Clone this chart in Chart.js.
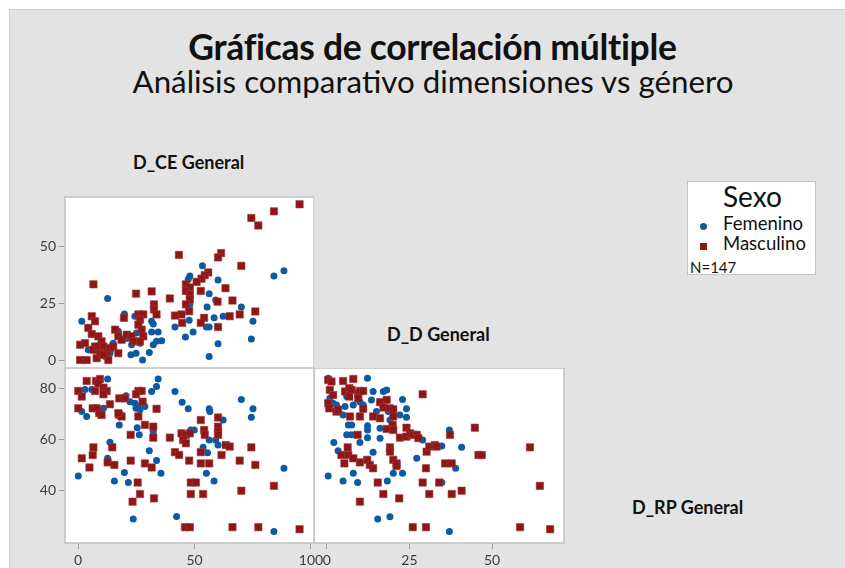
<!DOCTYPE html>
<html><head><meta charset="utf-8">
<script src="https://cdn.jsdelivr.net/npm/chart.js@4/dist/chart.umd.min.js"></script>
<style>
html,body{margin:0;padding:0;width:845px;height:568px;overflow:hidden;background:#fff;font-family:Lato,"Open Sans",sans-serif;}
#bg{position:absolute;left:9px;top:9px;width:836px;height:559px;background:#e3e3e3;border-top:1px solid #cdcdcd;border-left:1px solid #cdcdcd;}
canvas{position:absolute;}
.t{position:absolute;white-space:nowrap;color:#111;}
#title{left:0;width:865px;text-align:center;top:25px;font-size:35.5px;font-weight:bold;letter-spacing:-0.3px;}
#sub{left:0;width:866px;text-align:center;top:62px;font-size:31.3px;}
.lab{font-size:18px;font-weight:bold;}
#leg{position:absolute;left:687px;top:181px;width:127px;height:92px;background:#fff;border:1px solid #c4c4c4;}
.mk{position:absolute;}
</style></head>
<body>
<div id="bg"></div>
<div class="t" id="title">Gráficas de correlación múltiple</div>
<div class="t" id="sub">Análisis comparativo dimensiones vs género</div>
<div class="t lab" style="left:133px;top:151px;">D_CE General</div>
<div class="t lab" style="left:387px;top:323px;">D_D General</div>
<div class="t lab" style="left:632px;top:496px;">D_RP General</div>
<div id="leg">
  <div class="t" style="left:35px;top:-3px;font-size:28px;">Sexo</div>
  <div class="mk" style="left:12px;top:41px;width:7px;height:7px;border-radius:50%;background:#0b5aa6;"></div>
  <div class="t" style="left:35px;top:30px;font-size:18.5px;">Femenino</div>
  <div class="mk" style="left:12px;top:61px;width:7px;height:7px;background:#8e1616;"></div>
  <div class="t" style="left:35px;top:50px;font-size:18.5px;">Masculino</div>
  <div class="t" style="left:2px;top:76px;font-size:15px;">N=147</div>
</div>
<canvas id="cA" width="314" height="178" style="left:0;top:190px;width:314px;height:178px;"></canvas>
<canvas id="cC" width="260" height="200" style="left:314px;top:368px;width:260px;height:200px;"></canvas>
<canvas id="cB" width="340" height="200" style="left:0;top:368px;width:340px;height:200px;"></canvas>
<script>
// ---- tick labels ----
const ticksCE = [0, 50, 100];
const ticksD = [0, 25, 50];
const ticksRP = [40, 60, 80];
const seriesNames = ["Femenino", "Masculino"];

// ---- Panel A: x = D_CE General, y = D_D General ----
const femCE_D = [[88.4,39.5],[84.1,37.3],[53.4,41.7],[48,37.3],[47.3,35.8],[60.1,35.5],[56.3,29.5],[59.1,26.7],[55.4,23.6],[70.1,23.6],[75.1,17.4],[74.4,9.6],[62.3,19.6],[58.4,18.9],[56.3,14.9],[55.1,14.9],[60.1,7.5],[56.3,1.9],[49.4,12.7],[46.1,10.5],[41.6,14.9],[12.7,27.4],[19.9,20.6],[1.6,17.4],[24.4,19.6],[31.6,17.4],[32.3,16.2],[34.4,12.7],[31.6,12.7],[33.7,8.6],[35.9,8.8],[22.3,10],[25.1,12.2],[20.9,10],[23,7.1],[26.6,7.8],[32.3,7.1],[30.6,3.7],[24.9,3.4],[22.7,2.7],[27.7,0.4],[17.3,13],[15.1,7.8],[13.7,3.4],[11.6,1.9],[4.4,4.9],[48,24.8],[47.7,17.8]];
const masCE_D = [[95.1,68.7],[84.1,65.6],[74.4,62.7],[77.4,59.4],[43.3,46.5],[61.4,47.3],[60.1,45.4],[70.1,41.7],[55.9,38.8],[54.4,37.6],[53,36.1],[50.9,34.7],[46.3,33.6],[48,32.2],[46.3,30.7],[48,29.2],[48,27],[46.3,24.8],[47.7,21.8],[6.6,33.6],[24.9,29.5],[31.6,30.5],[39.4,27.4],[52.7,30.7],[63.3,31.9],[59.9,26],[66.3,26.5],[76.1,21.7],[69.4,20.4],[65.1,19.6],[54.1,18.9],[52.7,16.7],[60.1,14.9],[44.7,16.7],[41.6,19.9],[44.4,20.4],[32.6,24.8],[32.6,22.6],[33.7,20.4],[19.7,18.9],[25.9,20.4],[28,20.4],[26.6,18.1],[25.9,15.9],[27.3,13.7],[28,10.8],[26.6,8.6],[5.9,19.6],[7.3,17.4],[4.4,14.5],[5.9,11.8],[8.7,10.8],[10.1,8.6],[7.3,6.3],[15.9,13.7],[17.3,10.8],[18.7,9.3],[20.9,11.5],[23,10.8],[23.7,8.6],[0.9,7.1],[3,7.8],[6.6,4.9],[8.7,6.3],[10.9,6.3],[12.3,3.4],[13.7,5.6],[15.1,6.3],[17.3,3.4],[0.9,0.4],[3.7,0.4],[8,1.2],[13,0.4],[9.4,3.4],[10.9,2.7]];

// ---- Panel B: x = D_CE General, y = D_RP General ----
const femCE_RP = [[12.7,83.9],[34.4,83.9],[33.7,80.9],[31.6,79],[3,79.8],[5.9,79.8],[1.6,71.1],[3.7,69.2],[41.6,79],[44.7,74.8],[47.3,72.2],[56.3,72.2],[56.6,71.1],[62.3,67.8],[70.1,75.9],[75.1,72.2],[74.4,68.9],[20.6,77.3],[22.3,75],[24.4,74.4],[25.9,73.1],[24.9,72.4],[26.6,71.8],[28.7,73.1],[10.9,72.4],[17.7,65.9],[25.4,64.8],[26.3,62],[48.4,63.9],[49.9,63.9],[56.3,60],[59.1,60],[60.1,58],[53.7,57.1],[55.6,55],[13.7,59.1],[12.7,52.8],[30.6,55.8],[33.7,51.9],[35.6,46.9],[19.9,47.2],[15.6,43.9],[21.6,43.3],[0.1,45.9],[55.1,46.9],[58.4,43.9],[23.7,29],[42.3,30],[84.1,24.1],[88.4,48.9],[32.3,63.3]];
const masCE_RP = [[3.7,83.1],[7.7,83.1],[9.4,83.9],[8.7,82.2],[7.3,79.2],[0.1,79.2],[1.6,77],[10.9,80.5],[12.3,79.2],[10.9,77.9],[0.1,72.4],[6.3,72.4],[8,72.4],[9.1,70.5],[10.1,69.8],[13.7,74],[17.7,76.3],[20.1,76.3],[25.9,79.2],[27.3,79.2],[24.9,77.9],[27.7,75],[33.7,72.2],[17.7,69.8],[18.7,69.2],[17.3,70.5],[25.9,69.2],[28.7,65.9],[32.3,65.2],[32.3,60.9],[22.6,62],[39.4,60.9],[44.4,62.6],[46.3,62],[45.1,60],[46.3,58.7],[48,62.6],[52.7,67.8],[54.1,63.9],[54.4,62],[60.1,68.8],[60.1,65.2],[60.1,63.3],[60.1,62],[41.6,55.2],[43.4,54.1],[52.7,55.2],[52.7,50.8],[56.3,50.8],[47.7,51.9],[61.6,54.1],[63.4,58],[65.1,57.4],[69.4,51.9],[74.4,57.1],[76.1,50.2],[6.6,57.1],[6.3,54.1],[1.6,52.8],[4.9,49.2],[14.7,57.1],[12.7,51.2],[15.6,50.2],[22.6,51.9],[28.7,50.8],[31.6,49.2],[25.6,43.3],[26.6,38.8],[23.4,35.8],[32.6,37.1],[48.4,43.3],[50.6,43.3],[48.4,38.8],[53.7,38.8],[70.1,40.1],[84.1,42],[45.9,25.8],[48,25.8],[66.3,25.8],[77.4,25.8],[95.1,25]];

// ---- Panel C: x = D_D General, y = D_RP General ----
const femD_RP = [[0.4,84.2],[12.3,84.2],[14,79],[17.1,79],[18.1,79.6],[22.9,75.9],[24.1,72.2],[24.1,68.9],[1.9,74.4],[3.4,72.4],[4.9,69.8],[6.5,65.9],[7.5,65.9],[6,62],[7.5,62],[10,59],[12.3,65.6],[12.3,63.9],[12.3,60.9],[16.1,64.6],[16.1,60.7],[19.1,67.8],[2.1,59],[3.4,55.8],[14,55.2],[8,46.9],[4.9,43.9],[9.3,43.3],[0.4,45.9],[20.1,46.9],[22.9,46.9],[18.3,43.9],[27.2,52.8],[29,60],[34.8,57.6],[37.1,63.9],[40.8,57.1],[39,48.9],[34.8,43.3],[15.4,29],[19.1,29.9],[37.1,24.1],[11,73.7],[10,75],[0.9,76.3],[2.9,73.7],[8,73.7],[5.5,73.1],[15,71.1],[18.6,71.1],[22.1,69.8],[13.5,75.7],[6,77]];
const masD_RP = [[0.4,83.5],[1.4,82.9],[0.9,79.6],[1.9,77.6],[0.4,74.4],[0.7,72.4],[2.9,71.1],[3.4,71.8],[4.9,83.1],[5.5,79],[6.8,80.3],[7.5,79.6],[8,83.9],[6.8,77],[9.5,78.3],[10,79.2],[11,79.2],[9.5,76.3],[11,72.2],[10,69.2],[7,69.2],[14,69.2],[16.1,68.5],[16.1,74.8],[18.1,75.7],[17.1,72.7],[19.1,72.4],[20.1,72],[20.1,69.2],[19.9,65.9],[18.1,64.3],[20.1,63.9],[24.1,64.8],[22.1,60.9],[24.1,61.3],[25.2,62.6],[26.2,62],[27.2,62],[27.7,60.7],[29,77.9],[9.3,62],[6.3,57.1],[4.4,54.1],[5.3,50.8],[6.5,54.1],[8,52.8],[10,51.2],[12.2,52.2],[13,50.2],[14,48.9],[19.1,57.1],[19.1,55.4],[20.1,52.2],[21.1,50.8],[21.1,49.8],[30.2,55.4],[31,57.4],[32.7,58],[33.2,57.4],[30,48.9],[29,43.3],[34,43.3],[37.3,62],[35.8,50.8],[37.8,50.8],[44.8,64.8],[45.9,54.1],[46.9,54.1],[61.5,57.1],[15.4,43.3],[17.1,38.8],[21.9,37.1],[31,38.8],[37.8,38.8],[40.8,40.1],[64.5,42],[10,35.8],[26,25.8],[30,25.8],[58.5,25.8],[67.6,25]];

const BLUE = '#0b5aa6', RED = '#8e1616';

const panelPlugin = {
  id: 'panel',
  beforeDraw(chart) {
    const {ctx, chartArea: a} = chart;
    ctx.save(); ctx.fillStyle = '#fff';
    ctx.fillRect(a.left, a.top, a.right - a.left, a.bottom - a.top);
    ctx.restore();
  },
  afterDatasetsDraw(chart) {
    const {ctx, chartArea: a} = chart;
    ctx.save(); ctx.strokeStyle = '#c2c2c2'; ctx.lineWidth = 1.5;
    ctx.strokeRect(a.left, a.top, a.right - a.left, a.bottom - a.top);
    ctx.restore();
  }
};

function ds(fem, mas) {
  return [
    {label: seriesNames[0], data: fem.map(p => ({x: p[0], y: p[1]})), pointStyle: 'circle', pointRadius: 3.5,
     backgroundColor: BLUE, borderColor: BLUE, borderWidth: 0, order: 2},
    {label: seriesNames[1], data: mas.map(p => ({x: p[0], y: p[1]})), pointStyle: 'rect', pointRadius: 5.2,
     backgroundColor: RED, borderColor: '#a33a3a', borderWidth: 0.6, order: 1}
  ];
}

function axis(opts) {
  return {
    type: 'linear', min: opts.min, max: opts.max, display: opts.display !== false,
    grid: {drawOnChartArea: false, drawTicks: true, tickLength: 6, color: '#9a9a9a', lineWidth: 1},
    border: {display: false},
    ticks: {color: '#3c3c3c', font: {family: 'Lato, "Open Sans", sans-serif', size: 14}, padding: 3,
            autoSkip: false, maxRotation: 0, minRotation: 0},
    afterBuildTicks(s) { s.ticks = opts.ticks.map(v => ({value: v})); },
    afterFit(s) {
      s.paddingTop = 0; s.paddingBottom = 0; s.paddingLeft = 0; s.paddingRight = 0;
      if (opts.size != null) { if (s.isHorizontal()) s.height = opts.size; else s.width = opts.size; }
    }
  };
}

function make(id, fem, mas, xo, yo, padding) {
  new Chart(document.getElementById(id), {
    type: 'scatter',
    data: {datasets: ds(fem, mas)},
    options: {
      responsive: false, animation: false, devicePixelRatio: 1,
      layout: {padding, autoPadding: false},
      plugins: {legend: {display: false}, tooltip: {enabled: false}, title: {display: false}},
      scales: {x: axis(xo), y: axis(yo)}
    },
    plugins: [panelPlugin]
  });
}

make('cA', femCE_D, masCE_D,
  {min: -5.6, max: 101.3, ticks: ticksCE, display: false},
  {min: -3.1, max: 71.9, ticks: ticksD, size: 65},
  {top: 7, right: 0, bottom: 0, left: 0});
make('cB', femCE_RP, masCE_RP,
  {min: -5.6, max: 101.3, ticks: ticksCE, size: 25},
  {min: 19.6, max: 88.2, ticks: ticksRP, size: 65},
  {top: 0, right: 26, bottom: 0, left: 0});
make('cC', femD_RP, masD_RP,
  {min: -3.9, max: 71.8, ticks: ticksD, size: 25},
  {min: 19.6, max: 88.2, ticks: ticksRP, display: false},
  {top: 0, right: 10, bottom: 0, left: 0});
</script>
</body></html>
